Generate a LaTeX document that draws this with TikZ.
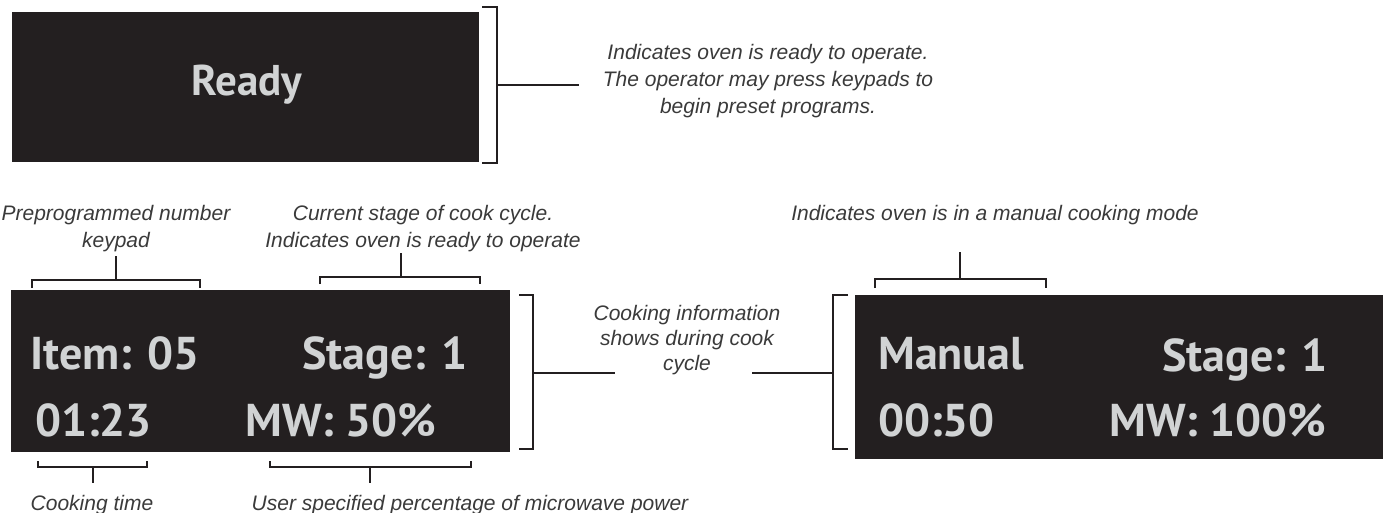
\documentclass[tikz,border=0pt]{standalone}
\usepackage{fontspec}
\setmainfont{Liberation Sans}
\newfontfamily\lcdfont{PT Sans}
\definecolor{lcdbg}{HTML}{231F20}
\definecolor{lcdfg}{HTML}{D1D3D4}
\definecolor{notefg}{HTML}{3A3A3A}
\tikzset{
  lcd/.style={fill=lcdbg, draw=none, inner sep=0, anchor=north west},
  lcdtext/.style={text=lcdfg, font=\lcdfont\bfseries\fontsize{46}{50}\selectfont, inner sep=0, anchor=base west},
  note/.style={text=notefg, font=\itshape\fontsize{21}{27}\selectfont, align=center, inner sep=0},
  brace/.style={draw=lcdbg, line width=1.6pt},
}
\begin{document}
\begin{tikzpicture}[x=1pt, y=-1pt]
\useasboundingbox (0,0) rectangle (1387,512);

% ready screen
\node[lcd, minimum width=467pt, minimum height=150pt] (readybox) at (12,12) {};
\node[lcdtext, anchor=base, font=\lcdfont\bfseries\fontsize{43}{46}\selectfont] (ready) at (247,95) {Ready};
\node[note, anchor=north] (readynote) at (768,44) {Indicates oven is ready to operate.\\The operator may press keypads to\\begin preset programs.};
\coordinate (readytop) at (497,7);
\coordinate (readybot) at (497,163);
\coordinate (readymid) at (497,85);
\coordinate (readyend) at (579,85);
\draw[brace] (readytop) ++(-15,0) -- (readytop) -- (readybot) -- ++(-15,0);
\draw[brace] (readymid) -- (readyend);

% cook cycle screen
\node[lcd, minimum width=499pt, minimum height=162pt] (cookbox) at (11,290) {};
\node[lcdtext] (item) at (30,369) {Item: 05};
\node[lcdtext] (stage) at (302,369) {Stage: 1};
\node[lcdtext] (time) at (35,436) {01:23};
\node[lcdtext] (power) at (245,436) {MW: 50\%};

% manual screen
\node[lcd, minimum width=528pt, minimum height=164pt] (manualbox) at (855,295) {};
\node[lcdtext] (manual) at (878,369) {Manual};
\node[lcdtext] (mstage) at (1162,371) {Stage: 1};
\node[lcdtext] (mtime) at (878,436) {00:50};
\node[lcdtext] (mpower) at (1109,436) {MW: 100\%};

% notes
\node[note, anchor=north] (itemnote) at (116,205) {Preprogrammed number\\keypad};
\node[note, anchor=north] (stagenote) at (423,205) {Current stage of cook cycle.\\Indicates oven is ready to operate};
\node[note, anchor=base] (manualnote) at (995,220) {Indicates oven is in a manual cooking mode};
\node[note, anchor=north, font=\itshape\fontsize{21}{25}\selectfont] (cooknote) at (687,305) {Cooking information\\shows during cook\\cycle};
\node[note, anchor=base] (timenote) at (92,510) {Cooking time};
\node[note, anchor=base] (powernote) at (470,510) {User specified percentage of microwave power};

% braces
\coordinate (itemstem) at (116,280);
\draw[brace] (32,288) -- (32,280) -- (200,280) -- (200,288);
\draw[brace] (itemstem) -- ++(0,-24);
\coordinate (stagestem) at (401,277);
\draw[brace] (320,284) -- (320,277) -- (480,277) -- (480,284);
\draw[brace] (stagestem) -- ++(0,-24);
\coordinate (manualstem) at (960,279);
\draw[brace] (875,288) -- (875,279) -- (1046,279) -- (1046,288);
\draw[brace] (manualstem) -- ++(0,-27);
\coordinate (timestem) at (93,467);
\draw[brace] (38,461) -- (38,467) -- (147,467) -- (147,461);
\draw[brace] (timestem) -- ++(0,16);
\coordinate (powerstem) at (370,467);
\draw[brace] (270,461) -- (270,467) -- (471,467) -- (471,461);
\draw[brace] (powerstem) -- ++(0,16);

\coordinate (cookmid) at (533,373);
\coordinate (cookend) at (615,373);
\draw[brace] (519,295) -- (533,295) -- (533,449) -- (519,449);
\draw[brace] (cookmid) -- (cookend);
\coordinate (manmid) at (833,373);
\coordinate (manend) at (752,373);
\draw[brace] (848,295) -- (833,295) -- (833,449) -- (848,449);
\draw[brace] (manmid) -- (manend);

\end{tikzpicture}
\end{document}
